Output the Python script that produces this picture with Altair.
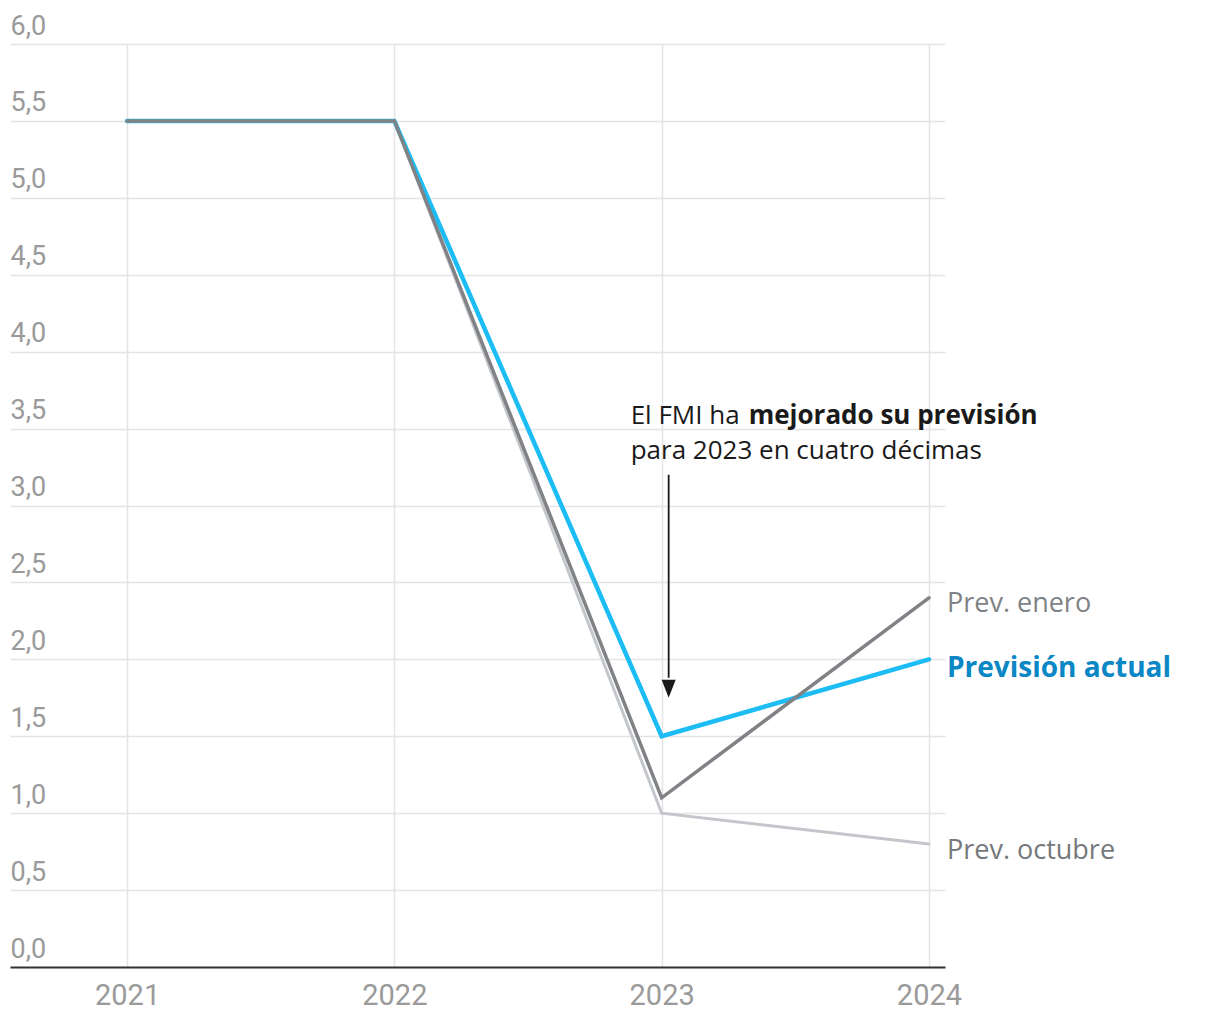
import altair as alt
import pandas as pd

years = [2021, 2022, 2023, 2024]
prev_octubre = [5.5, 5.5, 1.0, 0.8]
prev_enero = [5.5, 5.5, 1.1, 2.4]
prevision_actual = [5.5, 5.5, 1.5, 2.0]

series_names = ["Prev. octubre", "Prev. enero", "Previsión actual"]
series_colors = ["#c3c7cb", "#808285", "#1cbdf5"]
label_colors = ["#76787b", "#808285", "#0a87c4"]
label_weights = ["normal", "normal", "bold"]
label_sizes = [27, 27, 28]
y_ticks = [0, 0.5, 1, 1.5, 2, 2.5, 3, 3.5, 4, 4.5, 5, 5.5, 6]

ann_line1_normal = "El FMI ha"
ann_line1_bold = "mejorado su previsión"
ann_line2 = "para 2023 en cuatro décimas"

AXFONT = "Roboto"
FONT = "Open Sans"

rows = []
for name, vals in zip(series_names, [prev_octubre, prev_enero, prevision_actual]):
    for yr, v in zip(years, vals):
        rows.append({"serie": name, "year": yr, "value": v})
df = pd.DataFrame(rows)

x_scale = alt.Scale(domain=[2020.562, 2024.06], nice=False, zero=False)
y_scale = alt.Scale(domain=[0, 6], nice=False)

x_enc = alt.X("year:Q", scale=x_scale, axis=alt.Axis(
    values=years, format="d", grid=True, gridColor="#e4e4e4", gridWidth=1.5,
    domain=True, domainColor="#333333", domainWidth=2, ticks=False, tickSize=0,
    labelPadding=14, labelFontSize=29, labelColor="#9a9a9a", labelFont=AXFONT,
    labelFlush=False, title=None))
y_enc = alt.Y("value:Q", scale=y_scale, axis=alt.Axis(
    values=y_ticks, grid=True, gridColor="#e4e4e4", gridWidth=1.5,
    domain=False, ticks=False, tickSize=0, labelAlign="left", labelPadding=0,
    labelBaseline="alphabetic", labelOffset=-10, labelFontSize=27,
    labelColor="#9a9a9a", labelFont=AXFONT,
    labelExpr="replace(format(datum.value, '.1f'), '.', ',')", title=None))

layers = []
widths = [3, 3.5, 4.5]
order = [0, 2, 1]
base_axes = alt.Chart(df).mark_line(opacity=0).encode(x=x_enc, y=y_enc)
layers.append(base_axes)
for i in order:
    name = series_names[i]
    layers.append(
        alt.Chart(df[df.serie == name]).mark_line(
            color=series_colors[i], strokeWidth=widths[i], strokeCap="round",
            strokeJoin="miter").encode(
            x=alt.X("year:Q", scale=x_scale), y=alt.Y("value:Q", scale=y_scale))
    )

# end labels
last = pd.DataFrame({
    "serie": series_names,
    "year": [years[-1]] * 3,
    "value": [prev_octubre[-1], prev_enero[-1], prevision_actual[-1]],
})
label_dy = [15, 14, 18]
for i, name in enumerate(series_names):
    layers.append(
        alt.Chart(last[last.serie == name]).mark_text(
            align="left", baseline="alphabetic", dx=18, dy=label_dy[i],
            fontSize=label_sizes[i], font=FONT, fontWeight=label_weights[i],
            color=label_colors[i]).encode(
            x=alt.X("year:Q", scale=x_scale), y=alt.Y("value:Q", scale=y_scale),
            text="serie:N")
    )

# annotation
ann = pd.DataFrame({
    "year": [2023, 2023, 2023],
    "value": [3.53, 3.53, 3.30],
    "text": [ann_line1_normal, ann_line1_bold, ann_line2],
    "w": ["normal", "bold", "normal"],
    "dx": [-31, 87, -31],
})
for _, r in ann.iterrows():
    layers.append(
        alt.Chart(pd.DataFrame([r])).mark_text(
            align="left", baseline="alphabetic", dx=int(r["dx"]), fontSize=26,
            font=FONT, fontWeight=r["w"], color="#1a1a1a").encode(
            x=alt.X("year:Q", scale=x_scale), y=alt.Y("value:Q", scale=y_scale),
            text="text:N")
    )

arrow = pd.DataFrame({"year": [2023], "y1": [3.2], "y2": [1.88], "head": [1.808]})
layers.append(
    alt.Chart(arrow).mark_rule(color="#1a1a1a", strokeWidth=1.8, xOffset=7).encode(
        x=alt.X("year:Q", scale=x_scale), y=alt.Y("y1:Q", scale=y_scale), y2="y2:Q")
)
layers.append(
    alt.Chart(arrow).mark_point(shape="M-0.78,-1L0.78,-1L0,1Z", filled=True,
                                color="#1a1a1a", opacity=1, size=324,
                                xOffset=7).encode(
        x=alt.X("year:Q", scale=x_scale), y=alt.Y("head:Q", scale=y_scale))
)

chart = alt.layer(*layers).properties(
    width=935, height=923,
    autosize=alt.AutoSizeParams(type="none"),
    padding={"left": 2, "top": 36, "right": 260, "bottom": 50},
).configure(background="white").configure_view(stroke=None)

chart.save("out.html", embed_options={"renderer": "svg", "actions": False})
